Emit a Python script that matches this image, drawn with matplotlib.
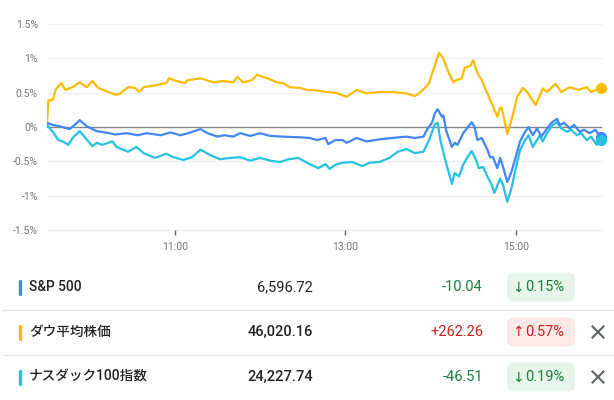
import matplotlib
matplotlib.use('Agg')
import matplotlib.pyplot as plt
from matplotlib.patches import FancyBboxPatch
from matplotlib.lines import Line2D

plt.rcParams['font.family'] = ['Roboto', 'Noto Sans CJK JP', 'DejaVu Sans']

# minutes after 9:30 and % change
dow_t = [0, 1, 4, 6, 10, 13, 18, 23, 28, 32, 36, 42, 48, 51, 57, 62, 65, 68, 77, 84,
         86, 91, 97, 99, 108, 117, 124, 131, 134, 138, 144, 148, 155, 162, 166, 171, 178, 183, 187, 197,
         203, 211, 218, 225, 234, 243, 253, 259, 262, 266, 269, 273, 276, 279, 282, 286, 288, 292, 294, 298,
         300, 303, 306, 310, 312, 313, 317, 319, 320, 321, 324, 328, 331, 335, 338, 344, 349, 352, 358, 362,
         368, 374, 380, 383, 390]
dow_v = [0.06, 0.39, 0.39, 0.54, 0.64, 0.54, 0.58, 0.65, 0.58, 0.67, 0.57, 0.52, 0.47, 0.48, 0.58, 0.57, 0.51, 0.58, 0.61, 0.64,
         0.71, 0.67, 0.64, 0.68, 0.71, 0.65, 0.67, 0.65, 0.73, 0.65, 0.68, 0.76, 0.71, 0.65, 0.64, 0.58, 0.57, 0.54, 0.54, 0.51,
         0.50, 0.44, 0.54, 0.49, 0.51, 0.51, 0.49, 0.45, 0.49, 0.57, 0.64, 0.90, 1.08, 1.00, 0.83, 0.65, 0.68, 0.71, 0.86, 0.89,
         0.97, 0.79, 0.68, 0.49, 0.39, 0.35, 0.15, 0.28, 0.28, 0.20, -0.10, 0.18, 0.44, 0.57, 0.51, 0.32, 0.56, 0.51, 0.63, 0.51,
         0.58, 0.54, 0.58, 0.51, 0.57]

sp_t = [0, 4, 9, 16, 20, 23, 28, 35, 44, 48, 56, 64, 70, 80, 87, 94, 101, 108, 113, 120,
        125, 131, 136, 143, 150, 157, 166, 178, 185, 190, 196, 198, 203, 208, 211, 218, 225, 234, 243, 253,
        259, 265, 268, 271, 273, 275, 278, 279, 281, 285, 287, 289, 293, 296, 299, 301, 303, 306, 310, 312,
        314, 317, 319, 321, 324, 327, 331, 333, 336, 339, 342, 345, 348, 352, 355, 359, 361, 364, 368, 371,
        375, 378, 382, 386, 390]
sp_v = [0.06, 0.03, 0.01, -0.03, 0.04, 0.10, 0.01, -0.06, -0.09, -0.11, -0.09, -0.12, -0.09, -0.12, -0.08, -0.12, -0.08, -0.03, -0.09, -0.14,
        -0.12, -0.14, -0.09, -0.13, -0.09, -0.13, -0.14, -0.15, -0.16, -0.19, -0.16, -0.25, -0.19, -0.19, -0.23, -0.16, -0.21, -0.18, -0.16, -0.14,
        -0.16, -0.14, -0.02, 0.06, 0.20, 0.26, 0.15, 0.17, -0.05, -0.29, -0.23, -0.26, -0.09, -0.01, 0.07, 0.00, -0.19, -0.16, -0.33, -0.44,
        -0.44, -0.60, -0.45, -0.58, -0.80, -0.65, -0.36, -0.21, -0.09, 0.00, -0.12, -0.02, -0.14, -0.02, 0.06, 0.12, 0.03, 0.06, -0.02, 0.03,
        -0.07, -0.04, -0.09, -0.04, -0.15]

nq_t = [0, 4, 8, 11, 15, 18, 23, 27, 32, 35, 39, 46, 49, 57, 63, 68, 76, 84, 89, 96,
        102, 108, 115, 122, 129, 136, 143, 150, 157, 164, 170, 177, 183, 191, 196, 199, 203, 208, 215, 222,
        227, 234, 241, 247, 253, 259, 265, 269, 273, 275, 277, 280, 285, 287, 290, 293, 296, 299, 302, 304,
        307, 310, 313, 315, 319, 321, 324, 327, 331, 333, 336, 339, 342, 347, 349, 352, 356, 359, 362, 366,
        369, 373, 376, 380, 383, 387, 390]
nq_v = [0.03, -0.07, -0.19, -0.21, -0.26, -0.16, -0.06, -0.16, -0.28, -0.23, -0.26, -0.21, -0.29, -0.36, -0.29, -0.38, -0.45, -0.39, -0.44, -0.48,
        -0.44, -0.33, -0.41, -0.47, -0.45, -0.44, -0.49, -0.45, -0.49, -0.51, -0.47, -0.45, -0.52, -0.60, -0.54, -0.61, -0.55, -0.52, -0.51, -0.57,
        -0.52, -0.51, -0.45, -0.36, -0.32, -0.38, -0.36, -0.19, 0.04, 0.06, -0.20, -0.45, -0.83, -0.67, -0.72, -0.55, -0.44, -0.35, -0.48, -0.60,
        -0.58, -0.72, -0.84, -0.96, -0.75, -0.84, -1.09, -0.89, -0.51, -0.34, -0.21, -0.12, -0.29, -0.12, -0.21, -0.09, 0.03, 0.07, -0.02, -0.07,
        -0.04, -0.12, -0.09, -0.19, -0.14, -0.26, -0.19]

y_ticks = [-1.5, -1.0, -0.5, 0.0, 0.5, 1.0, 1.5]
y_labels = ['-1.5%', '-1%', '-0.5%', '0%', '0.5%', '1%', '1.5%']
x_ticks = [90, 210, 330]
x_labels = ['11:00', '13:00', '15:00']

# table rows
names = ['S&P 500', 'ダウ平均株価', 'ナスダック100指数']
prices = ['6,596.72', '46,020.16', '24,227.74']
changes = ['-10.04', '+262.26', '-46.51']
pcts = ['0.15%', '0.57%', '0.19%']
is_up = [False, True, False]
closable = [False, True, True]

c_sp, c_dow, c_nq = '#4285f4', '#fbbc04', '#24c1e0'
row_colors = [c_sp, c_dow, c_nq]

W, H = 614, 400
fig = plt.figure(figsize=(W / 100, H / 100), dpi=100)

# overlay in pixel units for the table part
bg = fig.add_axes([0, 0, 1, 1])
bg.set_xlim(0, W)
bg.set_ylim(H, 0)
bg.axis('off')

ax = fig.add_axes([47 / W, 1 - 230 / H, 554 / W, 206 / H])
ax.patch.set_alpha(0)
ax.set_xlim(0, 390)
ax.set_ylim(-1.5, 1.5)
for s in ax.spines.values():
    s.set_visible(False)

for y in y_ticks:
    if y == 0:
        ax.axhline(y, color='#80868b', lw=1.0, zorder=1, clip_on=False)
    else:
        ax.axhline(y, color='#eeeff1', lw=0.9, zorder=0, clip_on=False)

ax.plot(dow_t, dow_v, color=c_dow, lw=1.6, zorder=3, solid_joinstyle='round')
ax.plot(nq_t, nq_v, color=c_nq, lw=1.6, zorder=3, solid_joinstyle='round')
ax.plot(sp_t, sp_v, color=c_sp, lw=1.6, zorder=3, solid_joinstyle='round')

ax.plot(dow_t[-1], dow_v[-1], 'o', color=c_dow, ms=7, zorder=5, clip_on=False)
ax.plot(sp_t[-1], sp_v[-1], 'o', color=c_sp, ms=7, zorder=5, clip_on=False)
ax.plot(nq_t[-1], nq_v[-1], 'o', color=c_nq, ms=7, zorder=6, clip_on=False)

ax.set_yticks(y_ticks)
ax.set_yticklabels(y_labels)
ax.set_xticks(x_ticks)
ax.set_xticklabels(x_labels)
ax.tick_params(axis='y', length=0, pad=6.5, labelsize=7.5, labelcolor='#70757a')
ax.tick_params(axis='x', length=3.5, width=1, color='#5f6368', pad=5,
               labelsize=7.5, labelcolor='#70757a')

# table
row_y = [287, 332, 377]
for y in [310, 355]:
    bg.plot([3, W], [y, y], color='#e3e5e8', lw=0.9)

for i, y in enumerate(row_y):
    bg.add_line(Line2D([19.5, 19.5], [y - 6.5, y + 6.5], color=row_colors[i],
                       lw=2.4, solid_capstyle='round'))
    bg.text(29, y, names[i], fontsize=9.8, color='#202124', weight='medium',
            ha='left', va='center')
    bg.text(313, y, prices[i], fontsize=10.5, color='#202124',
            weight='normal' if i == 0 else 'medium', ha='right', va='center')
    col = '#c5221f' if is_up[i] else '#188038'
    bg.text(483, y, changes[i], fontsize=10.5, color=col, ha='right', va='center')
    fc = '#fce8e6' if is_up[i] else '#e6f4ea'
    bg.add_patch(FancyBboxPatch((507, y - 14.5), 68, 29,
                                boxstyle='round,pad=0,rounding_size=7',
                                fc=fc, ec='none'))
    # arrow glyph + percent
    bg.text(524, y + 0.5, '↑' if is_up[i] else '↓', fontsize=10, color=col,
            ha='right', va='center', family=['DejaVu Sans'])
    bg.text(525, y, pcts[i], fontsize=10.5, color=col, ha='left', va='center')
    if closable[i]:
        bg.plot([592.5, 603.5], [y - 5.5, y + 5.5], color='#5f6368', lw=1.5)
        bg.plot([592.5, 603.5], [y + 5.5, y - 5.5], color='#5f6368', lw=1.5)

fig.savefig('out.png', dpi=100)
